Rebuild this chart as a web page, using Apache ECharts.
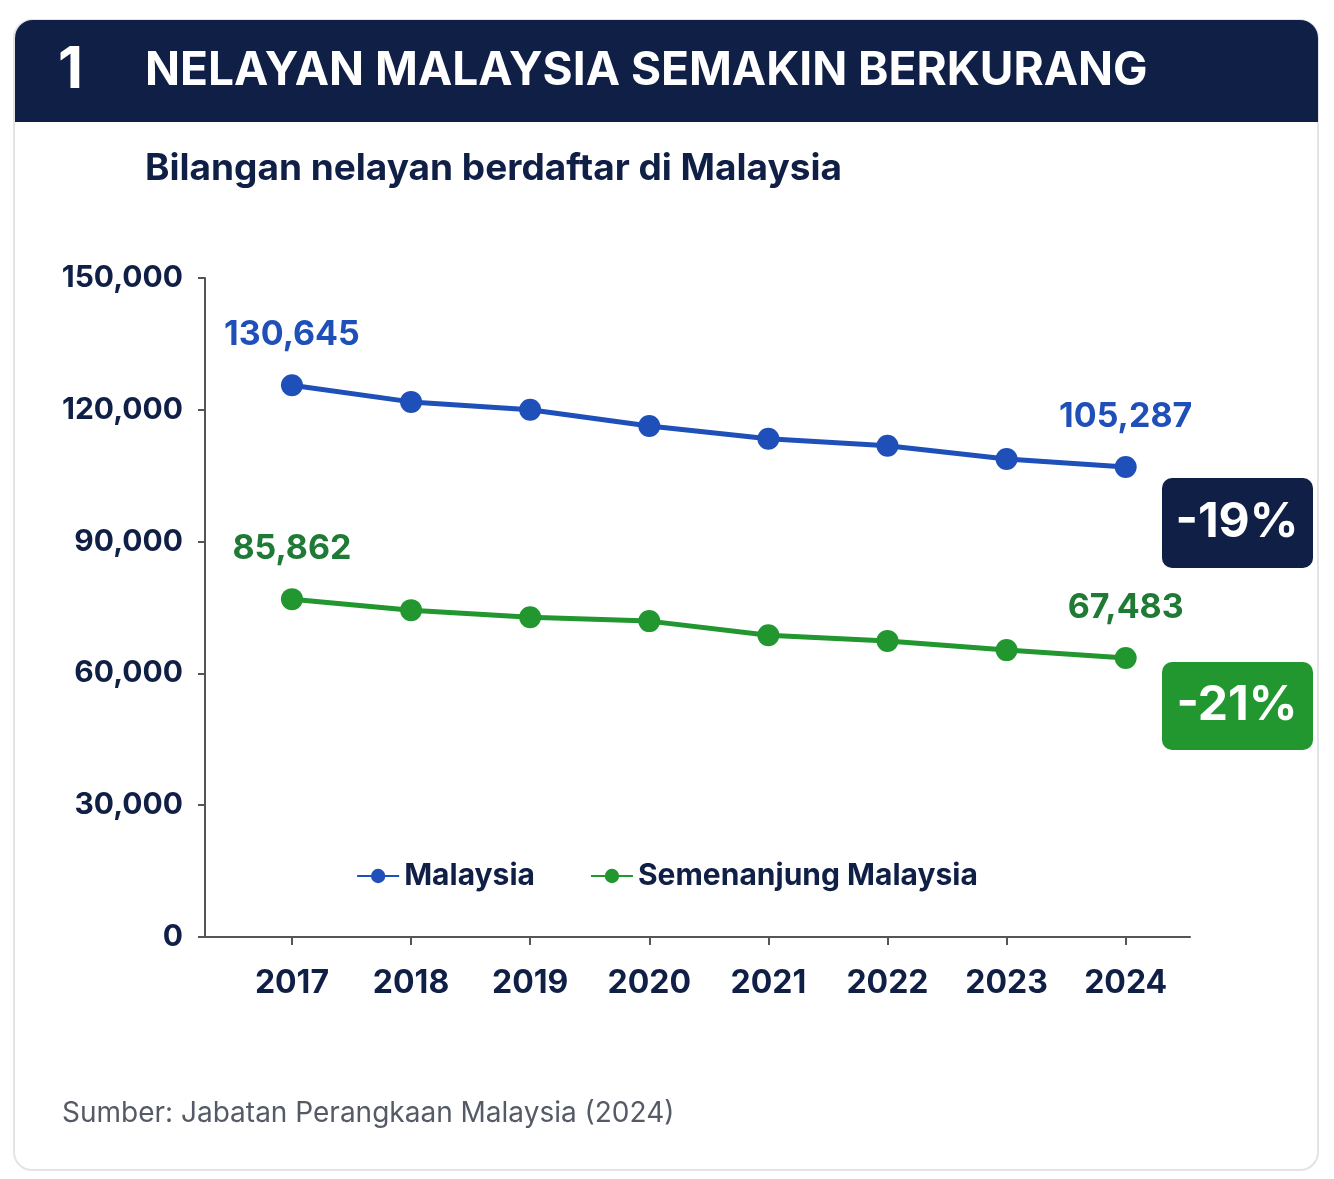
<!DOCTYPE html>
<html><head><meta charset="utf-8">
<script src="https://cdn.jsdelivr.net/npm/echarts@6/dist/echarts.min.js"></script>
<style>html,body{margin:0;padding:0;background:#fff}#main{width:1334px;height:1179px}</style>
</head><body><div id="main"></div>
<script>
const years = [2017, 2018, 2019, 2020, 2021, 2022, 2023, 2024];
const malaysia = [125600, 121800, 120000, 116300, 113400, 111800, 108800, 107000];
const semenanjung = [76900, 74400, 72800, 71900, 68700, 67400, 65300, 63500];
const malaysiaLabels = ['130,645', '105,287'];
const semenanjungLabels = ['85,862', '67,483'];
const yTicks = [0, 30000, 60000, 90000, 120000, 150000];

const navy = '#0f1f45', blue = '#1f4fb8', green = '#22962f';
const font = 'Inter, "Noto Sans", sans-serif';

function pairs(vals) { return years.map((y, i) => [y, vals[i]]); }
function endLabel(texts, color) {
  return {
    show: true, position: 'top', distance: 22,
    formatter: p => p.dataIndex === 0 ? texts[0] : (p.dataIndex === years.length - 1 ? texts[1] : ''),
    color: color, fontSize: 34, fontWeight: 'bold', fontFamily: font
  };
}

const chart = echarts.init(document.getElementById('main'));
chart.setOption({
  animation: false,
  graphic: [
    { type: 'rect', shape: { x: 14, y: 20, width: 1304, height: 1150, r: 18 }, style: { fill: '#fff', stroke: '#e2e4e8', lineWidth: 2 }, z: -10 },
    { type: 'rect', shape: { x: 15, y: 20, width: 1303, height: 102, r: [18, 18, 0, 0] }, style: { fill: navy }, z: -9 },
    { type: 'text', left: 58, top: 42, style: { text: '1', fill: '#fff', font: 'bold 58px ' + font } },
    { type: 'text', left: 145, top: 48, style: { text: 'NELAYAN MALAYSIA SEMAKIN BERKURANG', fill: '#fff', font: 'bold 46px ' + font } },
    { type: 'text', left: 145, top: 150, style: { text: 'Bilangan nelayan berdaftar di Malaysia', fill: navy, font: 'bold 37px ' + font } },
    { type: 'rect', shape: { x: 1162, y: 478, width: 151, height: 90, r: 10 }, style: { fill: navy } },
    { type: 'text', x: 1237, y: 523, style: { text: '-19%', fill: '#fff', font: 'bold 48px ' + font, textAlign: 'center', textVerticalAlign: 'middle' } },
    { type: 'rect', shape: { x: 1162, y: 662, width: 151, height: 88, r: 10 }, style: { fill: green } },
    { type: 'text', x: 1237, y: 706, style: { text: '-21%', fill: '#fff', font: 'bold 48px ' + font, textAlign: 'center', textVerticalAlign: 'middle' } },
    { type: 'text', left: 62, top: 1100, style: { text: 'Sumber: Jabatan Perangkaan Malaysia (2024)', fill: '#555b66', font: '28px ' + font } }
  ],
  grid: { left: 205, right: 144, top: 278, bottom: 242 },
  legend: {
    top: 856, left: 'center', itemGap: 55, itemWidth: 42, itemHeight: 18,
    textStyle: { fontSize: 30, fontWeight: 'bold', color: navy, fontFamily: font }
  },
  xAxis: {
    type: 'value', min: 2016.27, max: 2024.54,
    splitLine: { show: false },
    axisLine: { lineStyle: { color: '#555', width: 2 } },
    axisTick: { show: true, customValues: years, length: 8, lineStyle: { color: '#555', width: 2 } },
    axisLabel: { customValues: years, formatter: v => String(v), margin: 30, fontSize: 32, fontWeight: 'bold', color: navy, fontFamily: font }
  },
  yAxis: {
    type: 'value', min: 0, max: 150000, interval: 30000,
    splitLine: { show: false },
    axisLine: { show: true, lineStyle: { color: '#555', width: 2 } },
    axisTick: { show: true, length: 7, lineStyle: { color: '#555', width: 2 } },
    axisLabel: { margin: 22, fontSize: 30, fontWeight: 'bold', color: navy, fontFamily: font,
      formatter: v => yTicks.includes(v) ? v.toLocaleString('en-US') : '' }
  },
  series: [
    { name: 'Malaysia', type: 'line', data: pairs(malaysia), symbol: 'circle', symbolSize: 22,
      lineStyle: { color: blue, width: 5 }, itemStyle: { color: blue }, label: endLabel(malaysiaLabels, blue) },
    { name: 'Semenanjung Malaysia', type: 'line', data: pairs(semenanjung), symbol: 'circle', symbolSize: 22,
      lineStyle: { color: green, width: 5 }, itemStyle: { color: green }, label: endLabel(semenanjungLabels, '#1f7a35') }
  ]
});
</script></body></html>
